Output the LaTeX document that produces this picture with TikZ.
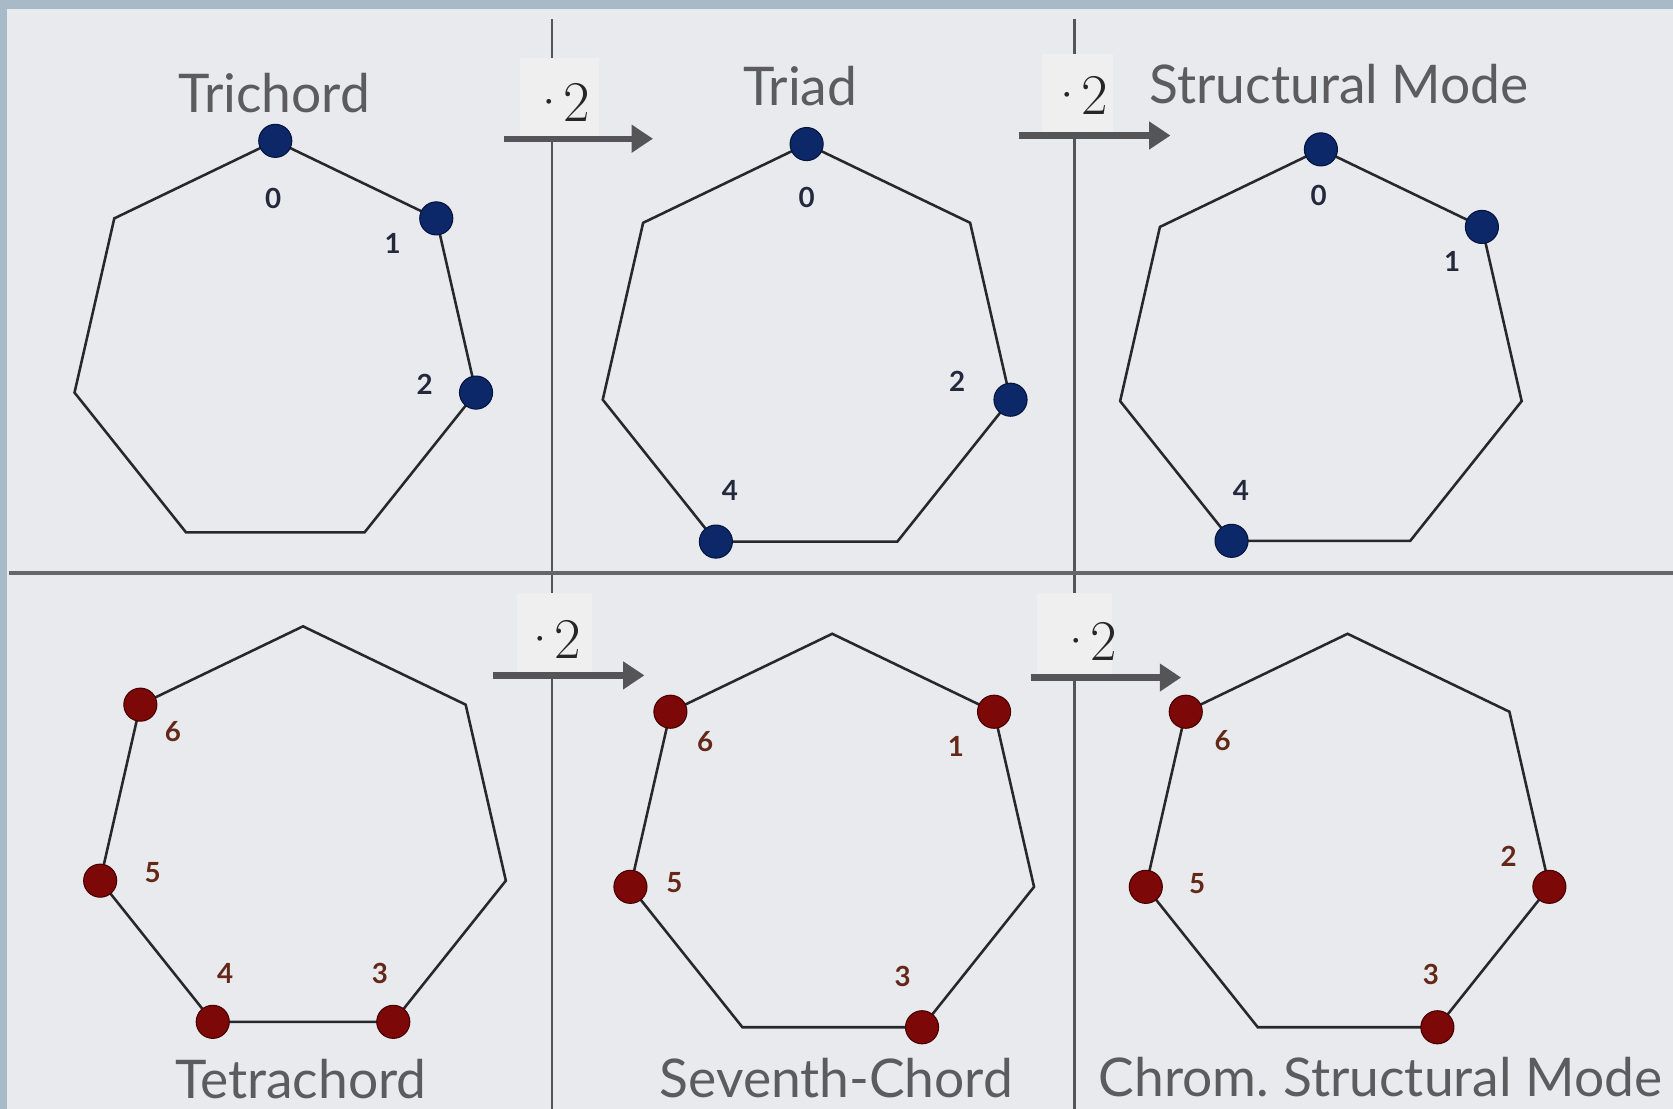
\documentclass[tikz,border=0pt]{standalone}
\usepackage{fontspec}
\setmainfont{Lato}
\newfontfamily\lmr{Latin Modern Roman}
\usetikzlibrary{arrows.meta}
\definecolor{bg}{RGB}{233,234,238}
\definecolor{boxbg}{RGB}{239,239,240}
\definecolor{framec}{RGB}{168,186,200}
\definecolor{navy}{RGB}{12,40,105}
\definecolor{navyedge}{RGB}{5,20,60}
\definecolor{dred}{RGB}{125,8,8}
\definecolor{dredge}{RGB}{70,0,0}
\definecolor{txt}{RGB}{92,92,95}
\definecolor{numtop}{RGB}{35,40,60}
\definecolor{numbot}{RGB}{100,40,25}
\definecolor{linec}{RGB}{85,85,88}
\definecolor{polyc}{RGB}{40,40,42}
\tikzset{
  poly/.style={draw=polyc, line width=2.4pt, line join=miter},
  divider/.style={draw=linec, line width=2pt},
  hdivider/.style={draw=linec!90, line width=3pt},
  mulbox/.style={fill=boxbg, draw=none, inner sep=0pt},
  multxt/.style={font=\lmr\fontsize{54}{58}\selectfont, text=black!85, inner sep=0pt},
  arr/.style={draw=linec, line width=6pt, -{Triangle[length=20pt,width=25pt]}},
  title/.style={font=\fontsize{50}{54}\selectfont, text=txt, inner sep=0pt, anchor=base},
  bdot/.style={circle, fill=navy, draw=navyedge, line width=1pt, minimum size=31pt, inner sep=0pt},
  rdot/.style={circle, fill=dred, draw=dredge, line width=1pt, minimum size=31pt, inner sep=0pt},
  tnum/.style={font=\bfseries\fontsize{26}{30}\selectfont, text=numtop, inner sep=0pt},
  bnum/.style={font=\bfseries\fontsize{26}{30}\selectfont, text=numbot, inner sep=0pt},
}
\newcommand\hept[4]{%
  \foreach \k in {0,...,6}{\coordinate (#1-\k) at ([shift={(#2,#3)}]{51.42857*\k-90}:#4);}
  \draw[poly] (#1-0) -- (#1-1) -- (#1-2) -- (#1-3) -- (#1-4) -- (#1-5) -- (#1-6) -- cycle;
}
\newcommand\mulabel{·\kern-6pt 2}
\begin{document}
\begin{tikzpicture}[x=1pt,y=-1pt]
\useasboundingbox (0,0) rectangle (1568,1039);
\fill[framec] (0,0) rectangle (1568,1039);
\fill[bg] (7,8) rectangle (1568,1039);
% dividers
\coordinate (vlt) at (517,18); \coordinate (vlb) at (517,1039);
\coordinate (vrt) at (1007,18); \coordinate (vrb) at (1007,1039);
\coordinate (hl) at (8,537); \coordinate (hr) at (1568,537);
\draw[divider] (vlt) -- (vlb);
\draw[divider] (vrt) -- (vrb);
\draw[hdivider] (hl) -- (hr);
% label boxes
\node[mulbox, minimum width=74pt, minimum height=76pt] (b1) at (524,92) {};
\node[mulbox, minimum width=66pt, minimum height=76pt] (b2) at (1010,89) {};
\node[mulbox, minimum width=70pt, minimum height=76pt] (b3) at (520,594) {};
\node[mulbox, minimum width=70pt, minimum height=76pt] (b4) at (1007,594) {};
\node[multxt] (m1) at (524,96) {\mulabel};
\node[multxt] (m2) at (1010,89) {\mulabel};
\node[multxt] (m3) at (516,599) {\mulabel};
\node[multxt] (m4) at (1018,601) {\mulabel};
% arrows
\coordinate (a1s) at (472,130); \coordinate (a1e) at (612,130);
\coordinate (a2s) at (955,127); \coordinate (a2e) at (1097,127);
\coordinate (a3s) at (462,633); \coordinate (a3e) at (604,633);
\coordinate (a4s) at (966,635); \coordinate (a4e) at (1107,635);
\draw[arr] (a1s) -- (a1e);
\draw[arr] (a2s) -- (a2e);
\draw[arr] (a3s) -- (a3e);
\draw[arr] (a4s) -- (a4e);
% heptagons
\hept{p}{258}{325}{193}
\hept{q}{756}{331}{196}
\hept{r}{1238}{333}{193}
\hept{s}{284}{782}{195}
\hept{t}{780}{788}{194}
\hept{u}{1263}{788}{194}
% titles
\node[title] (ti1) at (257,105) {Trichord};
\node[title] (ti2) at (750,99) {Triad};
\node[title] (ti3) at (1255,97) {Structural Mode};
\node[title] (ti4) at (282,1030) {Tetrachord};
\node[title] (ti5) at (784,1029) {Seventh-Chord};
\node[title] (ti6) at (1294,1028) {Chrom.\kern-4pt{} Structural Mode};
% dots top
\node[bdot] (dp0) at (p-0) {};
\node[bdot] (dp1) at (p-1) {};
\node[bdot] (dp2) at (p-2) {};
\node[bdot] (dq0) at (q-0) {};
\node[bdot] (dq2) at (q-2) {};
\node[bdot] (dq4) at (q-4) {};
\node[bdot] (dr0) at (r-0) {};
\node[bdot] (dr1) at (r-1) {};
\node[bdot] (dr4) at (r-4) {};
% dots bottom
\node[rdot] (ds6) at (s-6) {};
\node[rdot] (ds5) at (s-5) {};
\node[rdot] (ds4) at (s-4) {};
\node[rdot] (ds3) at (s-3) {};
\node[rdot] (dt6) at (t-6) {};
\node[rdot] (dt1) at (t-1) {};
\node[rdot] (dt5) at (t-5) {};
\node[rdot] (dt3) at (t-3) {};
\node[rdot] (du6) at (u-6) {};
\node[rdot] (du5) at (u-5) {};
\node[rdot] (du2) at (u-2) {};
\node[rdot] (du3) at (u-3) {};
% numbers top
\node[tnum] (np0) at (256,186) {0};
\node[tnum] (np1) at (368,228) {1};
\node[tnum] (np2) at (398,360) {2};
\node[tnum] (nq0) at (756,185) {0};
\node[tnum] (nq2) at (897,357) {2};
\node[tnum] (nq4) at (684,460) {4};
\node[tnum] (nr0) at (1236,183) {0};
\node[tnum] (nr1) at (1361,245) {1};
\node[tnum] (nr4) at (1163,460) {4};
% numbers bottom
\node[bnum] (ns6) at (162,686) {6};
\node[bnum] (ns5) at (143,818) {5};
\node[bnum] (ns4) at (211,912) {4};
\node[bnum] (ns3) at (356,912) {3};
\node[bnum] (nt6) at (661,695) {6};
\node[bnum] (nt1) at (896,700) {1};
\node[bnum] (nt5) at (632,827) {5};
\node[bnum] (nt3) at (846,915) {3};
\node[bnum] (nu6) at (1146,694) {6};
\node[bnum] (nu5) at (1122,828) {5};
\node[bnum] (nu2) at (1414,803) {2};
\node[bnum] (nu3) at (1341,913) {3};
\end{tikzpicture}
\end{document}
